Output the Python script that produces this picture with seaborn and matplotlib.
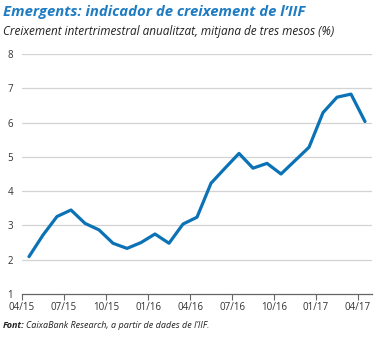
import matplotlib
matplotlib.use("Agg")
import matplotlib.pyplot as plt
import seaborn as sns
import pandas as pd
import numpy as np

months = ["04/15","05/15","06/15","07/15","08/15","09/15","10/15","11/15","12/15",
          "01/16","02/16","03/16","04/16","05/16","06/16","07/16","08/16","09/16",
          "10/16","11/16","12/16","01/17","02/17","03/17","04/17"]
values = [2.09, 2.72, 3.26, 3.45, 3.06, 2.87, 2.48, 2.33, 2.50, 2.75, 2.48, 3.04,
          3.24, 4.23, 4.67, 5.10, 4.67, 4.81, 4.50, 4.89, 5.28, 6.29, 6.74, 6.83, 6.03]
tick_labels = ["04/15","07/15","10/15","01/16","04/16","07/16","10/16","01/17","04/17"]
y_ticks = [1, 2, 3, 4, 5, 6, 7, 8]

sns.set_theme(style="white")
plt.rcParams['font.family'] = ['Open Sans', 'DejaVu Sans']

BLUE = "#0b72b5"
df = pd.DataFrame({"pos": np.arange(len(months)) + 0.5, "value": values, "month": months})

W, H = 391, 338
fig = plt.figure(figsize=(W/100, H/100), dpi=100)
ax = fig.add_axes([22/W, 1 - 294/H, (372-22)/W, (294-54)/H])

for y in y_ticks[1:]:
    ax.axhline(y, color="#d3d3d3", lw=0.9, zorder=0)

sns.lineplot(data=df, x="pos", y="value", ax=ax, color=BLUE, lw=2.3, zorder=3)

ax.set_xlim(0, 25)
ax.set_ylim(1, 8)
ax.set_xticks([months.index(t) for t in tick_labels])
ax.set_xticklabels(tick_labels)
ax.set_yticks(y_ticks)
ax.set_yticklabels([str(v) for v in y_ticks])
ax.set_xlabel("")
ax.set_ylabel("")
for s in ["top", "right", "left"]:
    ax.spines[s].set_visible(False)
ax.spines["bottom"].set_color("#666666")
ax.spines["bottom"].set_linewidth(0.9)
ax.tick_params(axis="x", bottom=True, length=4, width=0.8, color="#666666",
               labelsize=7, labelcolor="#333333", pad=2)
ax.tick_params(axis="y", left=False, length=0, labelsize=7, labelcolor="#333333", pad=6.5)

fig.text(3/W, 1 - 12/H, "Emergents: indicador de creixement de l\u2019IIF", color="#1f7cc2",
         fontsize=10.7, fontweight="bold", fontstyle="italic", va="center", ha="left")
fig.text(3/W, 1 - 32/H, "Creixement intertrimestral anualitzat, mitjana de tres mesos (%)",
         color="#222222", fontsize=8.45, fontstyle="italic", va="center", ha="left")
t1 = fig.text(3/W, 1 - 326/H, "Font:", color="#222222", fontsize=6.5, fontweight="bold",
              fontstyle="italic", va="center", ha="left")
fig.canvas.draw()
bb = t1.get_window_extent()
fig.text((bb.x1 + 1.5)/W, 1 - 326/H, "CaixaBank Research, a partir de dades de l\u2019IIF.",
         color="#222222", fontsize=6.5, fontstyle="italic", va="center", ha="left")

fig.savefig("out.png", dpi=100)
